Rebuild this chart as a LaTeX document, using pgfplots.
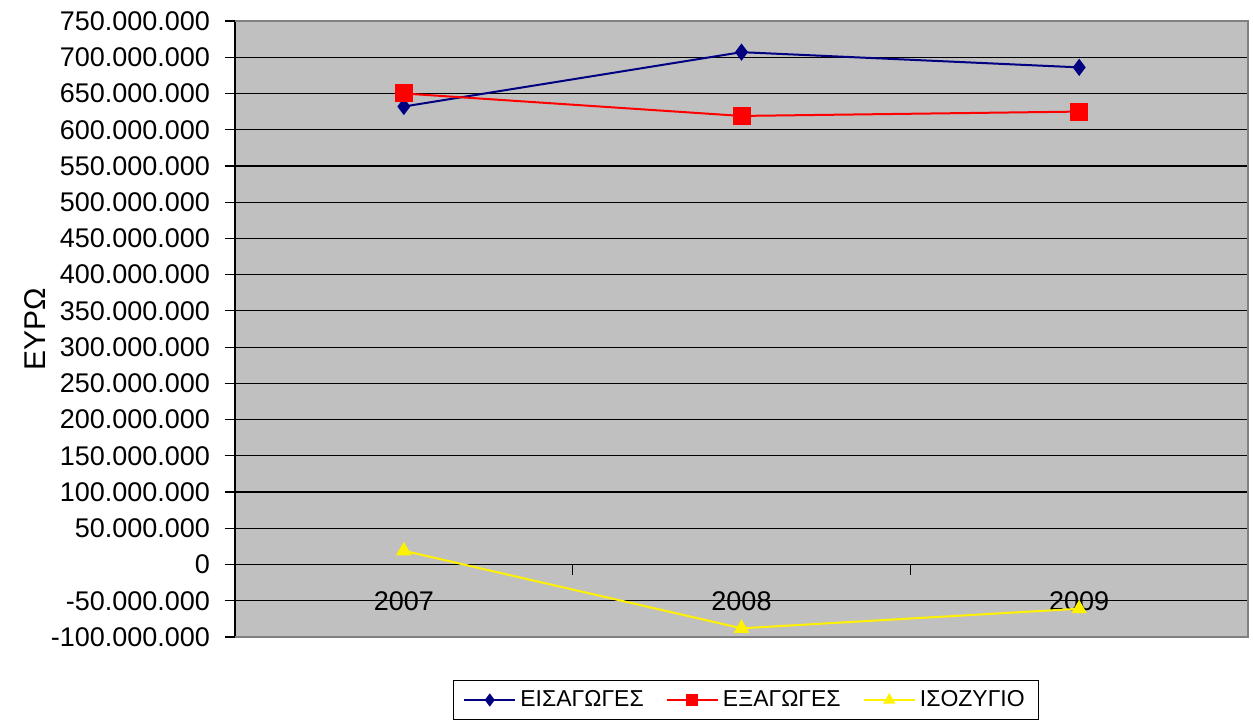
\documentclass[border=0pt]{standalone}
\usepackage{pgfplots}
\pgfplotsset{compat=1.18}
\usepackage{fontspec}
\setmainfont{Liberation Sans}
\definecolor{navy}{RGB}{0,0,128}
\definecolor{plotbg}{RGB}{192,192,192}
\definecolor{frame}{RGB}{128,128,128}
\begin{document}
\begin{tikzpicture}
\begin{axis}[
    scale only axis,
    width=506.5pt, height=308pt,
    xmin=-0.5, xmax=2.5,
    ymin=-100000000, ymax=750000000,
    axis background/.style={fill=plotbg},
    axis x line*=middle,
    axis y line*=left,
    x axis line style={-, black, line width=0.6pt},
    y axis line style={-, black, line width=0.6pt},
    % tick marks between the categories, labels under the categories
    xtick={0.5,1.5},
    xticklabels={},
    extra x ticks={0,1,2},
    extra x tick labels={2007,2008,2009},
    extra x tick style={major tick length=0pt},
    x tick style={black, line width=0.6pt},
    xticklabel style={font=\fontsize{13.5}{15}\selectfont, yshift=-10pt},
    ytick distance=50000000,
    scaled y ticks=false,
    yticklabel style={font=\fontsize{13.5}{15}\selectfont, xshift=-4pt},
    /pgf/number format/.cd, fixed, precision=0, 1000 sep={.}, assume math mode=true,
    /pgfplots/.cd,
    y tick style={black, line width=0.6pt},
    major tick length=5pt,
    tick align=outside,
    ymajorgrids,
    grid style={black, line width=0.6pt},
    legend columns=3,
    legend image code/.code={
        \draw[mark repeat=2, mark phase=2, mark size=2.5pt]
            plot coordinates {(0cm,0cm) (0.45cm,0cm) (0.9cm,0cm)};},
    legend style={at={(axis description cs:0.5044,-0.1023)}, anchor=center,
        draw=black, fill=white, font=\fontsize{11.5}{13}\selectfont,
        inner ysep=3pt, inner xsep=5pt,
        /tikz/every even column/.append style={column sep=9pt}},
    clip=false,
]
\addplot[navy, line width=1pt, mark=diamond*, mark size=3.5pt] coordinates {
    (0, 632000000) (1, 707000000) (2, 686000000)
};
\addlegendentry{ΕΙΣΑΓΩΓΕΣ}
\addplot[red, line width=1pt, mark=square*, mark size=4pt] coordinates {
    (0, 650000000) (1, 619000000) (2, 625000000)
};
\addlegendentry{ΕΞΑΓΩΓΕΣ}
\addplot[yellow, line width=1pt, mark=triangle*, mark size=3.5pt] coordinates {
    (0, 19000000) (1, -88000000) (2, -61000000)
};
\addlegendentry{ΙΣΟΖΥΓΙΟ}
\draw[frame, line width=0.8pt] (rel axis cs:0,1) -- (rel axis cs:1,1) -- (rel axis cs:1,0) -- (rel axis cs:0,0);
\node[rotate=90, font=\fontsize{15}{17}\selectfont] at (axis description cs:-0.197,0.5) {ΕΥΡΩ};
\end{axis}
\pgfresetboundingbox
\path (-117.5pt,-43.5pt) rectangle (509pt,318.5pt);
\end{tikzpicture}
\end{document}
